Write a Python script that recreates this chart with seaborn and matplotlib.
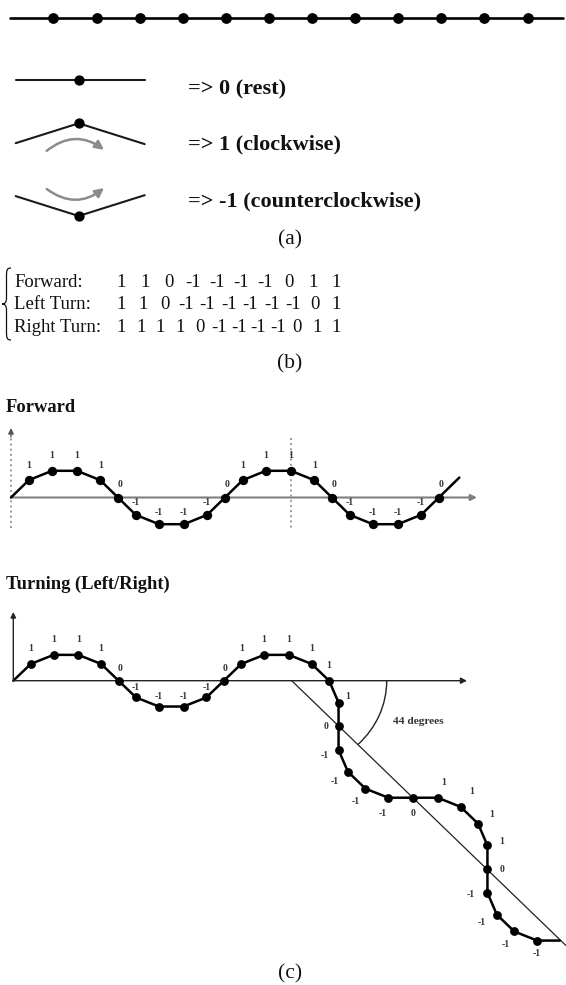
import numpy as np
import pandas as pd
import matplotlib
matplotlib.use("Agg")
import matplotlib.pyplot as plt
import seaborn as sns
from matplotlib.patches import Arc, FancyArrowPatch, PathPatch
from matplotlib.path import Path

# ---------------- data ----------------
TOP_CHAIN_CODES = [0, 0, 0, 0, 0, 0, 0, 0, 0, 0, 0, 0]
SYMBOL_CODES = [0, 1, -1]
SYMBOL_TEXTS = ["=> 0 (rest)", "=> 1 (clockwise)", "=> -1 (counterclockwise)"]
SEQ_NAMES = ["Forward:", "Left Turn:", "Right Turn:"]
SEQ_FORWARD = [1, 1, 0, -1, -1, -1, -1, 0, 1, 1]
SEQ_LEFT = [1, 1, 0, -1, -1, -1, -1, -1, -1, 0, 1]
SEQ_RIGHT = [1, 1, 1, 1, 0, -1, -1, -1, -1, 0, 1, 1]
FORWARD_CODES = [1, 1, 1, 1, 0, -1, -1, -1, -1, 0,
                 1, 1, 1, 1, 0, -1, -1, -1, -1, 0]
TURN_CODES = [1, 1, 1, 1, 0, -1, -1, -1, -1, 0,
              1, 1, 1, 1, 1, 1, 0, -1, -1, -1, -1, 0,
              1, 1, 1, 1, 0, -1, -1, -1, -1]
START_ANGLE = 45.0
STEP_ANGLE = 22.5
TURN_ANGLE = 44
TURN_ANGLE_TEXT = "44 degrees"
PANEL_TITLES = ["Forward", "Turning (Left/Right)"]
SUBLABELS = ["(a)", "(b)", "(c)"]

# ---------------- styling / layout ----------------
sns.set_style("white")
plt.rcParams["font.family"] = ["Liberation Serif", "DejaVu Serif"]
W, H = 566, 985
fig = plt.figure(figsize=(W / 100, H / 100), dpi=100)
ax = fig.add_axes([0, 0, 1, 1])

LABEL_COLOR = "#333333"
TEXT_COLOR = "#111111"


def chain(codes, x0, y0, lx, ly, start, step, tail):
    ang = start
    xs, ys, angs = [x0], [y0], []
    x, y = x0, y0
    for c in codes:
        x += lx * np.cos(np.radians(ang))
        y -= ly * np.sin(np.radians(ang))
        xs.append(x)
        ys.append(y)
        angs.append(ang)
        ang -= step * c
    x += tail * lx * np.cos(np.radians(ang))
    y -= tail * ly * np.sin(np.radians(ang))
    xs.append(x)
    ys.append(y)
    return xs, ys


def draw_chain(xs, ys, lw, s):
    df = pd.DataFrame({"x": xs, "y": ys, "order": range(len(xs))})
    sns.lineplot(data=df, x="x", y="y", sort=False, estimator=None,
                 color="black", linewidth=lw, ax=ax, zorder=2)
    sns.scatterplot(x=xs[1:-1], y=ys[1:-1], s=s, color="black",
                    edgecolor="black", linewidth=0, ax=ax, zorder=3)


# ---------- (a) top chain ----------
txs, tys = chain(TOP_CHAIN_CODES, 10.3, 18.3, 43.1, 43.1, 0.0, STEP_ANGLE, 0.82)
draw_chain(txs, tys, 1.9, 60)

# ---------- (a) symbols ----------
sym_cy = [80.3, 123.3, 216.0]
sym_text_base = [94.3, 149.3, 206.0]
slope = np.tan(np.radians(17.5))
for c, cy, tb, txt in zip(SYMBOL_CODES, sym_cy, sym_text_base, SYMBOL_TEXTS):
    cx = 78.7
    xs = [cx - 63, cx, cx + 66]
    ys = [cy + c * slope * 63, cy, cy + c * slope * 66]
    sns.lineplot(x=xs, y=ys, sort=False, estimator=None, color="#1a1a1a",
                 linewidth=1.5, ax=ax, zorder=2)
    sns.scatterplot(x=[cx], y=[cy], s=55, color="black", linewidth=0,
                    ax=ax, zorder=3)
    ax.text(188, tb, txt, fontsize=16, fontweight="bold", color=TEXT_COLOR,
            ha="left", va="baseline")
    if c != 0:
        ay = cy + 27.5 if c == 1 else cy - 27
        arr = FancyArrowPatch((46.7, ay), (104, ay - 1),
                              connectionstyle=f"arc3,rad={-0.38 * c}",
                              arrowstyle="-|>", mutation_scale=13,
                              color="#8c8c8c", lw=1.8, shrinkA=0, shrinkB=0,
                              zorder=2)
        ax.add_patch(arr)

ax.text(290, 244.3, SUBLABELS[0], fontsize=15.5, color=TEXT_COLOR,
        ha="center", va="baseline")

# ---------- (b) sequences ----------
brace = Path([(11, 268), (7, 268), (6.5, 270), (6.5, 276),
              (6.5, 298),
              (6.5, 302), (5, 304), (2, 304),
              (5, 304), (6.5, 306), (6.5, 310),
              (6.5, 332),
              (6.5, 338), (7, 340), (11, 340)],
             [Path.MOVETO, Path.CURVE4, Path.CURVE4, Path.CURVE4,
              Path.LINETO,
              Path.CURVE4, Path.CURVE4, Path.CURVE4,
              Path.CURVE4, Path.CURVE4, Path.CURVE4,
              Path.LINETO,
              Path.CURVE4, Path.CURVE4, Path.CURVE4])
ax.add_patch(PathPatch(brace, facecolor="none", edgecolor="#111111", lw=0.9))

row_base = [287.3, 309.3, 331.7]
for name, seq, yb in zip(SEQ_NAMES, [SEQ_FORWARD, SEQ_LEFT, SEQ_RIGHT], row_base):
    ax.text(14.4, yb, name, fontsize=13.5, color=TEXT_COLOR, ha="left",
            va="baseline")
    n = len(seq)
    first_c = 121.5 if seq[0] >= 0 else 124
    last_c = 336.5 if seq[-1] >= 0 else 334
    for i, v in enumerate(seq):
        xc = first_c + i * (last_c - first_c) / (n - 1)
        ax.text(xc, yb, f"{v}", fontsize=13.5, color=TEXT_COLOR,
                ha="center", va="baseline")

ax.text(290, 368, SUBLABELS[1], fontsize=15.5, color=TEXT_COLOR,
        ha="center", va="baseline")

# ---------- (c) Forward ----------
ax.text(6, 411.7, PANEL_TITLES[0], fontsize=13.3, fontweight="bold",
        color=TEXT_COLOR, ha="left", va="baseline")
fx0, fy0 = 11.0, 497.5
ax.plot([fx0, fx0], [528, 436], color="#9a9a9a", lw=1.4, ls=":", zorder=1)
ax.annotate("", xy=(fx0, 428), xytext=(fx0, 437),
            arrowprops=dict(arrowstyle="-|>", color="#555555", lw=1.0,
                            mutation_scale=8, shrinkA=0, shrinkB=0))
ax.plot([291, 291], [438, 528], color="#9a9a9a", lw=1.4, ls=":", zorder=1)
ax.annotate("", xy=(477, fy0), xytext=(fx0, fy0),
            arrowprops=dict(arrowstyle="-|>", color="#7f7f7f", lw=1.5,
                            mutation_scale=9, shrinkA=0, shrinkB=0), zorder=1)

fxs, fys = chain(FORWARD_CODES, fx0, fy0, 25.1, 24.5, START_ANGLE, STEP_ANGLE, 1.15)
draw_chain(fxs, fys, 1.8, 45)
f_off = {1: (0, -15), 0: (2, -13), -1: (0, -12)}
for x, y, c in zip(fxs[1:-1], fys[1:-1], FORWARD_CODES):
    dx, dy = f_off[c]
    ax.text(x + dx, y + dy, f"{c}", fontsize=7, fontweight="bold",
            color=LABEL_COLOR, ha="center", va="center")

# ---------- (c) Turning ----------
ax.text(6, 588.5, PANEL_TITLES[1], fontsize=13.3, fontweight="bold",
        color=TEXT_COLOR, ha="left", va="baseline")
tx0, ty0 = 13.3, 680.7
ax.annotate("", xy=(tx0, 612), xytext=(tx0, ty0),
            arrowprops=dict(arrowstyle="-|>", color="#222222", lw=1.0,
                            mutation_scale=8, shrinkA=0, shrinkB=0))
ax.annotate("", xy=(467, ty0), xytext=(tx0, ty0),
            arrowprops=dict(arrowstyle="-|>", color="#222222", lw=1.0,
                            mutation_scale=9, shrinkA=0, shrinkB=0))

# angled reference line and arc
dx0 = 291.7
ang = np.radians(TURN_ANGLE)
ax.plot([dx0, W], [ty0, ty0 + (W - dx0) * np.tan(ang)], color="#222222",
        lw=0.9, zorder=1)
ax.add_patch(Arc((dx0, ty0), 2 * 95, 2 * 89, theta1=0, theta2=TURN_ANGLE,
                 color="#222222", lw=1.0))
ax.text(418.7, 721.7, TURN_ANGLE_TEXT, fontsize=8.2, fontweight="bold",
        color=LABEL_COLOR, ha="center", va="center")

rxs, rys = chain(TURN_CODES, tx0, ty0, 24.7, 23.7, START_ANGLE, STEP_ANGLE, 0.92)
draw_chain(rxs, rys, 1.8, 40)
head_off = {1: (0, -15), 0: (1, -12), -1: (0, -10)}
tail_offsets = [(9.5, -6), (-12.5, 0), (-14, 6), (-13, 10), (-10, 13),
                (-6, 16), (0, 16), (6, -15), (11, -15), (14, -9), (14, -4),
                (15, 0), (-17, 2), (-15, 8), (-9, 13), (0, 13)]
n_head = len(TURN_CODES) - len(tail_offsets)
for i, (x, y, c) in enumerate(zip(rxs[1:-1], rys[1:-1], TURN_CODES)):
    if i < n_head:
        dx, dy = head_off[c]
    else:
        dx, dy = tail_offsets[i - n_head]
    ax.text(x + dx, y + dy, f"{c}", fontsize=7, fontweight="bold",
            color=LABEL_COLOR, ha="center", va="center")

ax.text(290, 978, SUBLABELS[2], fontsize=15.5, color=TEXT_COLOR,
        ha="center", va="baseline")

ax.set_xlim(0, W)
ax.set_ylim(H, 0)
ax.axis("off")
fig.savefig("out.png", dpi=100, facecolor="white")
